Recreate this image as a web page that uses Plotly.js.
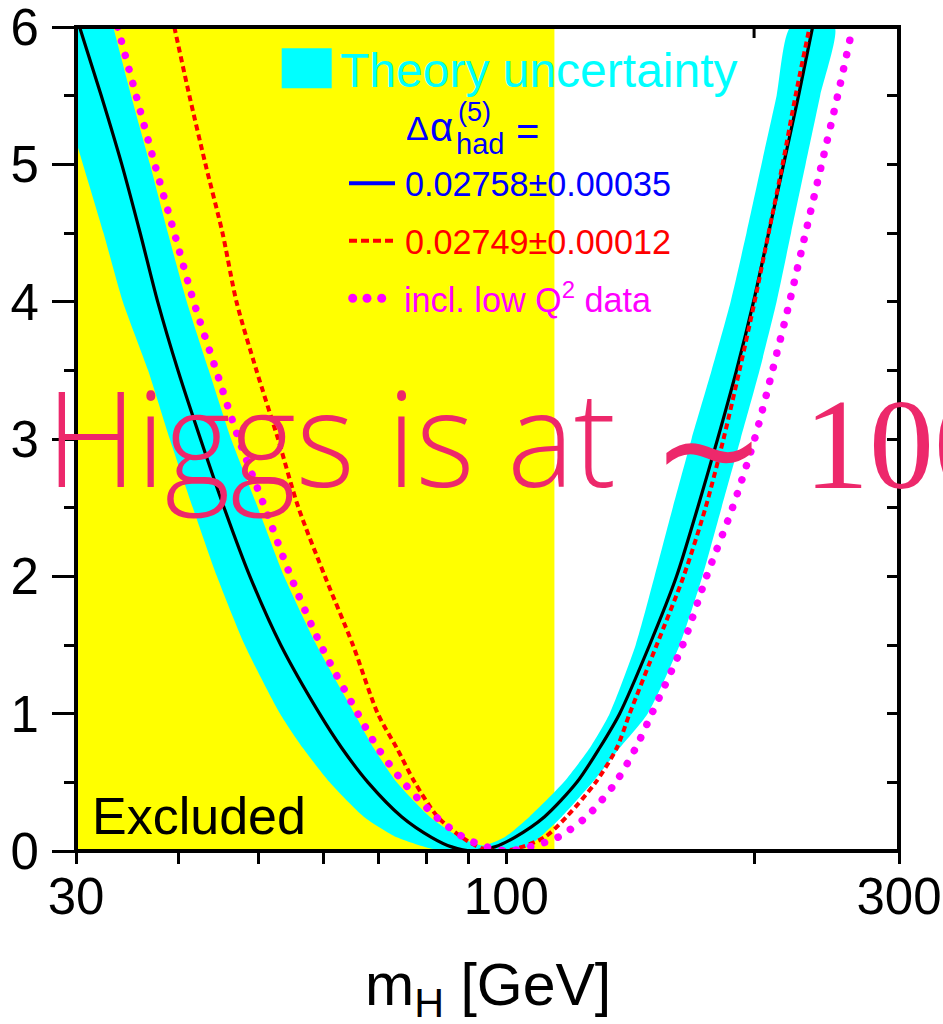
<!DOCTYPE html>
<html>
<head>
<meta charset="utf-8">
<script src="https://cdn.plot.ly/plotly-3.0.1.min.js"></script>
<style>
  html, body { margin: 0; padding: 0; background: #ffffff; }
  #chart { width: 943px; height: 1024px; }
  /* round caps turn the zero-length dashes into dots */
  .tracelowq2 .js-line { stroke-linecap: round; }
</style>
</head>
<body>
<div id="chart"></div>
<script>
// Delta chi^2 of the electroweak fit as a function of the Higgs mass.

// Central fit, Δα_had^(5) = 0.02758 ± 0.00035
const centralMass = [30.3, 32.2, 34.1, 35.9, 37.7, 39.9, 42.5, 45.4, 48.8, 53.2, 59.3, 63.1, 67.9, 74.6, 81.1, 85.8, 90.8,
                     96.8, 102.4, 111.3, 121.8, 129.8, 137.3, 149.3, 161.0, 170.8, 180.6, 190.4, 199.7, 208.3, 217.2, 226.5, 235.6];
const centralChi2 = [6, 5.5, 5, 4.5, 4, 3.5, 3, 2.5, 2, 1.5, 1, 0.75, 0.5, 0.25, 0.1, 0.03, 0,
                     0.03, 0.1, 0.25, 0.5, 0.75, 1, 1.5, 2, 2.5, 3, 3.5, 4, 4.5, 5, 5.5, 6];

// Δα_had^(5) = 0.02749 ± 0.00012
const altMass = [39.5, 41.2, 43.1, 45.2, 47.0, 49.7, 52.8, 55.9, 60.2, 65.1, 69.8, 73.6, 77.4, 82.5, 88.3, 93.3, 98.2,
                 103.2, 111.3, 118.4, 128.4, 136.2, 141.2, 152.3, 164.2, 174.6, 183.6, 192.0, 200.3, 208.3, 216.6, 224.6, 233.6];
const altChi2 = [6, 5.5, 5, 4.5, 4, 3.5, 3, 2.5, 2, 1.5, 1, 0.75, 0.5, 0.25, 0.1, 0.02, 0,
                 0.02, 0.1, 0.25, 0.5, 0.75, 1, 1.5, 2, 2.5, 3, 3.5, 4, 4.5, 5, 5.5, 6];

// including low Q^2 data
const lowQ2Mass = [33.7, 35.5, 37.4, 39.5, 41.7, 44.4, 47.3, 50.9, 54.7, 59.5, 66.0, 69.8, 75.0, 82.1, 88.7, 93.6, 100.4,
                   108.2, 115.5, 125.2, 135.8, 143.6, 150.2, 163.8, 175.1, 188.3, 200.3, 210.6, 220.9, 231.0, 241.6, 252.7, 263.5];
const lowQ2Chi2 = [6, 5.5, 5, 4.5, 4, 3.5, 3, 2.5, 2, 1.5, 1, 0.75, 0.5, 0.25, 0.1, 0.04, 0,
                   0.04, 0.1, 0.25, 0.5, 0.75, 1, 1.5, 2, 2.5, 3, 3.5, 4, 4.5, 5, 5.5, 6];

// Theory uncertainty band: outer edge (left branch down, right branch up) and inner edge
const bandOuterMass = [27.3, 30.0, 32.4, 34.2, 36.7, 39.0, 41.6, 44.5, 48.1, 53.1, 56.6, 61.0, 67.1, 73.6, 80.7, 85.3,
                       99.5, 105.3, 109.8, 116.8, 127.3, 137.3, 148.5, 162.4, 173.1, 182.6, 192.6, 203.1, 213.0, 221.8, 231.0, 240.6, 250.5];
const bandOuterChi2 = [6, 5.17, 4.5, 4, 3.5, 3, 2.5, 2, 1.5, 1, 0.75, 0.5, 0.25, 0.1, 0.02, 0,
                       0, 0.02, 0.1, 0.25, 0.5, 0.75, 1, 1.5, 2, 2.5, 3, 3.5, 4, 4.5, 5, 5.5, 6];
const bandInnerMass = [33.3, 35.0, 36.9, 38.8, 40.9, 43.5, 46.3, 49.9, 53.7, 58.8, 65.4, 69.0, 73.6, 80.7, 87.8, 93.6,
                       99.5, 106.7, 117.4, 126.3, 133.5, 143.6, 151.4, 159.3, 167.9, 177.6, 187.3, 195.8, 204.2, 213.0, 221.5];
const bandInnerChi2 = [6, 5.5, 5, 4.5, 4, 3.5, 3, 2.5, 2, 1.5, 1, 0.75, 0.5, 0.25, 0.1, 0.04,
                       0.1, 0.25, 0.5, 0.75, 1, 1.5, 2, 2.5, 3, 3.5, 4, 4.5, 5, 5.5, 6];

// Direct search exclusion
const massRange = [30, 300];
const excludedLimit = 114.4;

// Axis ticks
const xTickVals = [30, 40, 50, 60, 70, 80, 90, 100, 200, 300];
const xTickText = ['30', '', '', '', '', '', '', '100', '', '300'];
const yTickVals = [0, 1, 2, 3, 4, 5, 6];
const yMinorVals = [0.5, 1.5, 2.5, 3.5, 4.5, 5.5];
const topTickVals = [200];

// ---- page geometry (pixels) ----
const PLOT = { l: 76, t: 27, w: 823, h: 824 };
const W = 943, H = 1024;
const px = x => (x - PLOT.l) / PLOT.w;
const py = y => (PLOT.t + PLOT.h - y) / PLOT.h;
const logRange = [Math.log10(massRange[0]), Math.log10(massRange[1])];
// fraction of the plot width for a mass value on the log axis
const massFrac = m => (Math.log10(m) - logRange[0]) / (logRange[1] - logRange[0]);

const SANS = 'Liberation Sans, Arial, Helvetica, sans-serif';
const CYAN = '#00ffff', BLUE = '#0000ff', RED = '#ff0000', MAGENTA = '#ff00ff', YELLOW = '#ffff00';
const PINK = '#ed286b';

// closed outline of the band: outer edge, then inner edge walked backwards
const bandX = bandOuterMass.concat(bandInnerMass.slice().reverse());
const bandY = bandOuterChi2.concat(bandInnerChi2.slice().reverse());

const traces = [
  { type: 'scatter', mode: 'lines', x: bandX, y: bandY, fill: 'toself', fillcolor: CYAN,
    line: { width: 0, color: CYAN, shape: 'spline', smoothing: 0.6 }, hoverinfo: 'skip', showlegend: false },
  { type: 'scatter', mode: 'lines', x: centralMass, y: centralChi2,
    line: { color: '#000000', width: 3.2, shape: 'spline', smoothing: 0.8 }, showlegend: false },
  { type: 'scatter', mode: 'lines', x: altMass, y: altChi2,
    line: { color: RED, width: 4, dash: '6px,4px', shape: 'spline', smoothing: 0.8 }, showlegend: false },
  { type: 'scatter', mode: 'lines', uid: 'lowq2', x: lowQ2Mass, y: lowQ2Chi2,
    line: { color: MAGENTA, width: 7.5, dash: '0.1px,14.5px', shape: 'spline', smoothing: 0.8 }, showlegend: false },
  // carries the mirrored right axis
  { type: 'scatter', mode: 'lines', x: [], y: [], xaxis: 'x2', yaxis: 'y2', showlegend: false, hoverinfo: 'skip' }
];

function label(text, x, y, xanchor, yanchor, family, size, color, weight) {
  return { text: text, xref: 'paper', yref: 'paper', x: px(x), y: py(y), xanchor: xanchor, yanchor: yanchor,
           showarrow: false, borderpad: 0, borderwidth: 0, align: 'left',
           font: { family: family, size: size, color: color, weight: weight || 'normal' } };
}

const annotations = [
  label('Theory uncertainty', 340, 96.9, 'left', 'bottom', SANS, 48, CYAN),
  label('Δ', 406, 147.2, 'left', 'bottom', SANS, 34, BLUE),
  label('α', 430, 149.2, 'left', 'bottom', SANS, 40, BLUE),
  label('(5)', 458, 127.4, 'left', 'bottom', SANS, 27, BLUE),
  label('had', 456.4, 160.1, 'left', 'bottom', SANS, 29, BLUE),
  label('=', 516.3, 152.8, 'left', 'bottom', SANS, 40, BLUE),
  label('0.02758±0.00035', 405.2, 203.1, 'left', 'bottom', SANS, 34.2, BLUE),
  label('0.02749±0.00012', 405.2, 261.4, 'left', 'bottom', SANS, 34.2, RED),
  label('incl. low Q<sup>2</sup> data', 404.4, 319.1, 'left', 'bottom', SANS, 34.2, MAGENTA),
  label('Excluded', 92.2, 844.8, 'left', 'bottom', SANS, 52, '#000000'),
  label('m<sub>H</sub> [GeV]', 487.5, 951.6, 'center', 'top', SANS, 59, '#000000'),
  label('Higgs is at', 46, 526.2, 'left', 'bottom', 'Open Sans, Noto Sans, sans-serif', 132.6, PINK, 350),
  label('∼', 709, 449, 'center', 'middle', 'DejaVu Sans, sans-serif', 136, PINK),
  label('100', 804, 516.1, 'left', 'bottom', 'Liberation Serif, Times New Roman, serif', 130, PINK)
];

const shapes = [
  // excluded region
  { type: 'rect', xref: 'paper', yref: 'paper', x0: massFrac(massRange[0]), x1: massFrac(excludedLimit), y0: 0, y1: 1,
    fillcolor: YELLOW, line: { width: 0 }, layer: 'below' },
  // frame
  { type: 'rect', xref: 'paper', yref: 'paper', x0: 0, x1: 1, y0: 0, y1: 1,
    fillcolor: 'rgba(0,0,0,0)', line: { color: '#000000', width: 4 }, layer: 'above' },
  // legend keys
  { type: 'rect', xref: 'paper', yref: 'paper', x0: px(281.7), x1: px(331.7), y0: py(88.3), y1: py(48.3),
    fillcolor: CYAN, line: { width: 0 }, layer: 'above' },
  { type: 'line', xref: 'paper', yref: 'paper', x0: px(349), x1: px(395), y0: py(183.3), y1: py(183.3),
    line: { color: BLUE, width: 4 }, layer: 'above' },
  { type: 'line', xref: 'paper', yref: 'paper', x0: px(349), x1: px(395), y0: py(240.7), y1: py(240.7),
    line: { color: RED, width: 4, dash: '8px,4px' }, layer: 'above' }
].concat([352.7, 367, 381.7].map(cx => ({
  type: 'circle', xref: 'paper', yref: 'paper', x0: px(cx - 4.5), x1: px(cx + 4.5), y0: py(298.3 + 4.5), y1: py(298.3 - 4.5),
  fillcolor: MAGENTA, line: { width: 0 }, layer: 'above' })))
.concat(topTickVals.map(m => ({
  // inward tick on the top edge
  type: 'line', xref: 'paper', yref: 'paper', x0: massFrac(m), x1: massFrac(m), y0: 1, y1: py(PLOT.t + 11),
  line: { color: '#000000', width: 3 }, layer: 'above' })));

const layout = {
  width: W, height: H,
  margin: { l: PLOT.l, r: W - PLOT.l - PLOT.w, t: PLOT.t, b: H - PLOT.t - PLOT.h, pad: 0 },
  paper_bgcolor: '#ffffff', plot_bgcolor: '#ffffff',
  showlegend: false,
  xaxis: {
    type: 'log', range: logRange, tickmode: 'array', tickvals: xTickVals, ticktext: xTickText,
    ticks: 'outside', ticklen: 12, tickwidth: 3, tickcolor: '#000000', ticklabelstandoff: -11,
    ticklabeloverflow: 'allow',
    showline: false, showgrid: false, zeroline: false, fixedrange: true,
    tickfont: { family: SANS, size: 51, color: '#000000' }
  },
  yaxis: {
    range: [0, 6], tickmode: 'array', tickvals: yTickVals,
    ticks: 'outside', ticklen: 23, tickwidth: 3, tickcolor: '#000000', ticklabelstandoff: 3,
    ticklabeloverflow: 'allow',
    minor: { tickmode: 'array', tickvals: yMinorVals, ticks: 'outside', ticklen: 11, tickwidth: 3, tickcolor: '#000000', showgrid: false },
    showline: false, showgrid: false, zeroline: false, fixedrange: true,
    tickfont: { family: SANS, size: 51, color: '#000000' }
  },
  xaxis2: {
    type: 'log', range: logRange, overlaying: 'x', side: 'top', anchor: 'y2',
    showticklabels: false, ticks: '', showline: false, showgrid: false, zeroline: false, fixedrange: true
  },
  yaxis2: {
    range: [0, 6], overlaying: 'y', side: 'right', anchor: 'x2',
    tickmode: 'linear', tick0: 0, dtick: 0.5, ticks: 'inside', ticklen: 12, tickwidth: 3, tickcolor: '#000000',
    showticklabels: false, showline: false, showgrid: false, zeroline: false, fixedrange: true
  },
  shapes: shapes,
  annotations: annotations
};

Plotly.newPlot('chart', traces, layout, { staticPlot: true, displayModeBar: false }).then(gd => {
  // the sans caption is set narrower than the face's natural width
  gd.querySelectorAll('.annotation-text').forEach(t => {
    if (t.textContent === 'Higgs is at') {
      t.setAttribute('textLength', '570');
      t.setAttribute('lengthAdjust', 'spacingAndGlyphs');
    }
  });
});
</script>
</body>
</html>
